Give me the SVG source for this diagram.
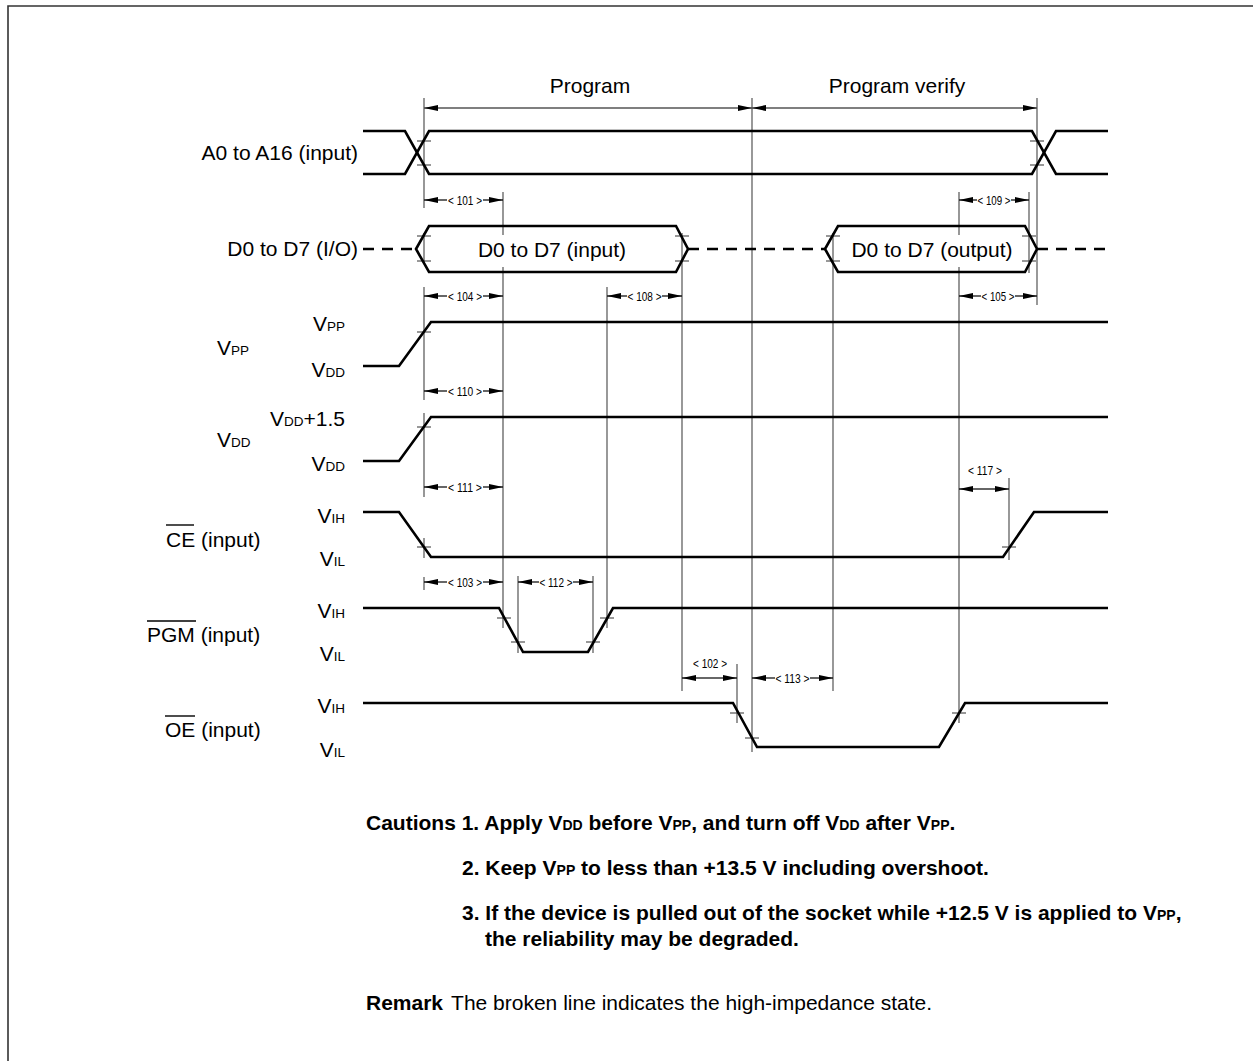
<svg xmlns="http://www.w3.org/2000/svg" width="1253" height="1061" viewBox="0 0 1253 1061">
<style>
.sig{fill:none;stroke:#000;stroke-width:2.6;stroke-linejoin:miter}
.dash{fill:none;stroke:#000;stroke-width:2.6;stroke-dasharray:11 8}
.guide{stroke:#444;stroke-width:1.1;fill:none}
.tick{stroke:#333;stroke-width:1.1}
.dim{stroke:#000;stroke-width:1.2;fill:none;marker-end:url(#ah)}
.lbl{font-family:"Liberation Sans",Arial,sans-serif;font-size:21px;fill:#000}
.sub{font-size:13.5px}
.num{font-family:"Liberation Sans",Arial,sans-serif;font-size:13.5px;fill:#000;text-anchor:middle}
.note{font-family:"Liberation Sans",Arial,sans-serif;font-size:21px;font-weight:bold;fill:#000}
.nsub{font-size:14px}
.norm{font-weight:normal}
.ovl{stroke:#000;stroke-width:1.4}
.frame{stroke:#333;stroke-width:1.6;fill:none}
</style>
<defs>
<marker id="ah" viewBox="0 0 14 6" refX="14" refY="3" markerWidth="14" markerHeight="6" markerUnits="userSpaceOnUse" orient="auto"><path d="M0,0 L14,3 L0,6 Z" fill="#000"/></marker>
</defs>

<g id="frame"><path class="frame" d="M8,1061 V6 H1253"/></g>

<g id="phases">
<text class="lbl" x="590" y="93" text-anchor="middle">Program</text>
<text class="lbl" x="897" y="93" text-anchor="middle">Program verify</text>
<line class="dim" x1="588" y1="108" x2="424" y2="108"/>
<line class="dim" x1="588" y1="108" x2="752" y2="108"/>
<line class="dim" x1="894" y1="108" x2="752" y2="108"/>
<line class="dim" x1="894" y1="108" x2="1037" y2="108"/>
</g>

<g id="guides">
<path class="guide" d="M424,98 V208 M424,233 V264 M424,287 V400 M424,413 V497 M424,538 V558 M424,577 V590"/>
<path class="guide" d="M503,192 V235 M503,267 V628"/>
<path class="guide" d="M607,287 V628"/>
<path class="guide" d="M682,233 V691"/>
<path class="guide" d="M752,98 V752"/>
<path class="guide" d="M833,233 V691"/>
<path class="guide" d="M959,192 V235 M959,267 V723"/>
<path class="guide" d="M1029,192 V273"/>
<path class="guide" d="M1037,98 V305"/>
<path class="guide" d="M1009,478 V560"/>
<path class="guide" d="M737,664 V723"/>
<path class="guide" d="M518,576 V653"/>
<path class="guide" d="M593,576 V653"/>
</g>

<g id="ticks">
<path class="tick" d="M417,141 H431 M417,165 H431 M1030,141 H1044 M1030,165 H1044
M417,236 H431 M417,261 H431 M675,236 H689 M675,261 H689 M826,236 H840 M826,261 H840 M1022,236 H1036 M1022,261 H1036
M417,332 H431 M417,427 H431 M417,547 H431 M1002,547 H1016
M497,618 H511 M511,642 H525 M586,642 H600 M600,618 H614
M730,713 H744 M745,738 H759 M952,713 H966"/>
</g>

<g id="sig-addr">
<text class="lbl" x="358" y="160" text-anchor="end">A0 to A16 (input)</text>
<path class="sig" d="M363,131 H405 L429,174 H1032 L1056,131 H1108"/>
<path class="sig" d="M363,174 H405 L429,131 H1032 L1056,174 H1108"/>
</g>

<g id="sig-data">
<text class="lbl" x="358" y="256" text-anchor="end">D0 to D7 (I/O)</text>
<path class="dash" d="M363,249 H416 M688,249 H825 M1037,249 H1108"/>
<path class="sig" d="M416,249 L429,226 H676 L688,249 L676,272 H429 Z"/>
<text class="lbl" x="552" y="257" text-anchor="middle">D0 to D7 (input)</text>
<path class="sig" d="M825,249 L838,226 H1025 L1037,249 L1025,272 H838 Z"/>
<text class="lbl" x="932" y="257" text-anchor="middle">D0 to D7 (output)</text>
</g>

<g id="sig-vpp">
<text class="lbl" x="217" y="355">V<tspan class="sub">PP</tspan></text>
<text class="lbl" x="345" y="331" text-anchor="end">V<tspan class="sub">PP</tspan></text>
<text class="lbl" x="345" y="377" text-anchor="end">V<tspan class="sub">DD</tspan></text>
<path class="sig" d="M363,366 H399 L431,322 H1108"/>
</g>

<g id="sig-vdd">
<text class="lbl" x="217" y="447">V<tspan class="sub">DD</tspan></text>
<text class="lbl" x="345" y="426" text-anchor="end">V<tspan class="sub">DD</tspan>+1.5</text>
<text class="lbl" x="345" y="471" text-anchor="end">V<tspan class="sub">DD</tspan></text>
<path class="sig" d="M363,461 H399 L431,417 H1108"/>
</g>

<g id="sig-ce">
<text class="lbl" x="166" y="547">CE (input)</text>
<line class="ovl" x1="166" y1="525" x2="194" y2="525"/>
<text class="lbl" x="345" y="523" text-anchor="end">V<tspan class="sub">IH</tspan></text>
<text class="lbl" x="345" y="566" text-anchor="end">V<tspan class="sub">IL</tspan></text>
<path class="sig" d="M363,512 H399 L431,557 H1003 L1034,512 H1108"/>
</g>

<g id="sig-pgm">
<text class="lbl" x="147" y="642">PGM (input)</text>
<line class="ovl" x1="147" y1="621" x2="196" y2="621"/>
<text class="lbl" x="345" y="618" text-anchor="end">V<tspan class="sub">IH</tspan></text>
<text class="lbl" x="345" y="661" text-anchor="end">V<tspan class="sub">IL</tspan></text>
<path class="sig" d="M363,608 H499 L523,652 H588 L613,608 H1108"/>
</g>

<g id="sig-oe">
<text class="lbl" x="165" y="737">OE (input)</text>
<line class="ovl" x1="165" y1="716" x2="195" y2="716"/>
<text class="lbl" x="345" y="713" text-anchor="end">V<tspan class="sub">IH</tspan></text>
<text class="lbl" x="345" y="757" text-anchor="end">V<tspan class="sub">IL</tspan></text>
<path class="sig" d="M363,703 H733 L757,747 H939 L965,703 H1108"/>
</g>

<g id="connectors">
<g id="t101"><line class="dim" x1="447" y1="200" x2="424" y2="200"/><line class="dim" x1="483" y1="200" x2="503" y2="200"/><text class="num" x="465" y="204.8" textLength="34" lengthAdjust="spacingAndGlyphs">&lt; 101 &gt;</text></g>
<g id="t104"><line class="dim" x1="447" y1="296" x2="424" y2="296"/><line class="dim" x1="483" y1="296" x2="503" y2="296"/><text class="num" x="465" y="300.8" textLength="34" lengthAdjust="spacingAndGlyphs">&lt; 104 &gt;</text></g>
<g id="t108"><line class="dim" x1="627" y1="296" x2="607" y2="296"/><line class="dim" x1="662" y1="296" x2="682" y2="296"/><text class="num" x="644.5" y="300.8" textLength="34" lengthAdjust="spacingAndGlyphs">&lt; 108 &gt;</text></g>
<g id="t109"><line class="dim" x1="977" y1="200" x2="959" y2="200"/><line class="dim" x1="1011" y1="200" x2="1029" y2="200"/><text class="num" x="994" y="204.8" textLength="33" lengthAdjust="spacingAndGlyphs">&lt; 109 &gt;</text></g>
<g id="t105"><line class="dim" x1="981" y1="296" x2="959" y2="296"/><line class="dim" x1="1015" y1="296" x2="1037" y2="296"/><text class="num" x="998" y="300.8" textLength="33" lengthAdjust="spacingAndGlyphs">&lt; 105 &gt;</text></g>
<g id="t110"><line class="dim" x1="447" y1="391" x2="424" y2="391"/><line class="dim" x1="483" y1="391" x2="503" y2="391"/><text class="num" x="465" y="395.8" textLength="34" lengthAdjust="spacingAndGlyphs">&lt; 110 &gt;</text></g>
<g id="t111"><line class="dim" x1="447" y1="487" x2="424" y2="487"/><line class="dim" x1="483" y1="487" x2="503" y2="487"/><text class="num" x="465" y="491.8" textLength="34" lengthAdjust="spacingAndGlyphs">&lt; 111 &gt;</text></g>
<g id="t103"><line class="dim" x1="447" y1="582" x2="424" y2="582"/><line class="dim" x1="483" y1="582" x2="503" y2="582"/><text class="num" x="465" y="586.8" textLength="34" lengthAdjust="spacingAndGlyphs">&lt; 103 &gt;</text></g>
<g id="t112"><line class="dim" x1="539" y1="582" x2="518" y2="582"/><line class="dim" x1="573" y1="582" x2="593" y2="582"/><text class="num" x="556" y="586.8" textLength="33" lengthAdjust="spacingAndGlyphs">&lt; 112 &gt;</text></g>
<g id="t113"><line class="dim" x1="775" y1="678" x2="752" y2="678"/><line class="dim" x1="810" y1="678" x2="833" y2="678"/><text class="num" x="792.5" y="682.8" textLength="34" lengthAdjust="spacingAndGlyphs">&lt; 113 &gt;</text></g>
<g id="t117"><line class="dim" x1="984" y1="489" x2="959" y2="489"/><line class="dim" x1="984" y1="489" x2="1009" y2="489"/><text class="num" x="985" y="474.8" textLength="34" lengthAdjust="spacingAndGlyphs">&lt; 117 &gt;</text></g>
<g id="t102"><line class="dim" x1="710" y1="678" x2="682" y2="678"/><line class="dim" x1="710" y1="678" x2="737" y2="678"/><text class="num" x="710" y="667.8" textLength="34" lengthAdjust="spacingAndGlyphs">&lt; 102 &gt;</text></g>
</g>

<g id="notes">
<text class="note" x="366" y="830">Cautions 1. Apply V<tspan class="nsub">DD</tspan> before V<tspan class="nsub">PP</tspan>, and turn off V<tspan class="nsub">DD</tspan> after V<tspan class="nsub">PP</tspan>.</text>
<text class="note" x="462" y="875">2. Keep V<tspan class="nsub">PP</tspan> to less than +13.5 V including overshoot.</text>
<text class="note" x="462" y="920">3. If the device is pulled out of the socket while +12.5 V is applied to V<tspan class="nsub">PP</tspan>,</text>
<text class="note" x="485" y="946">the reliability may be degraded.</text>
<text class="note" x="366" y="1010">Remark<tspan class="norm" dx="8">The broken line indicates the high-impedance state.</tspan></text>
</g>
</svg>
